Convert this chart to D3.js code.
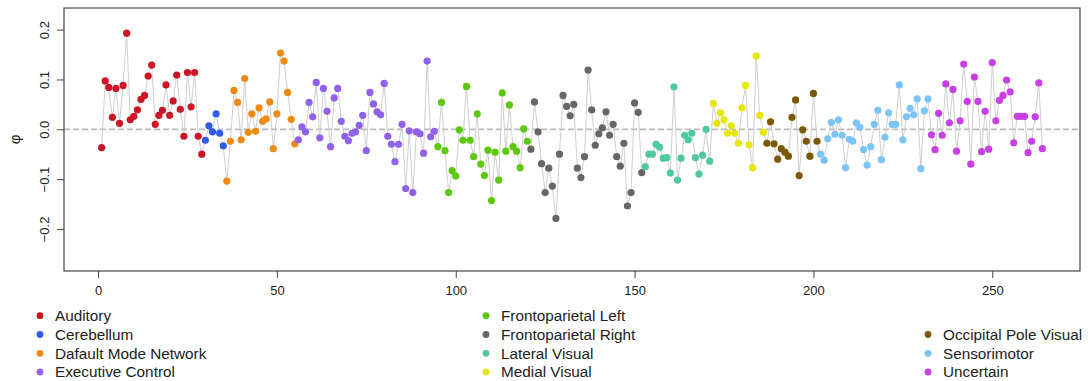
<!DOCTYPE html>
<html>
<head>
    <title>Phi by component</title>
    <style>
        body {
            margin: 0;
            background: #fff;
        }

        /* axis and legend text */
        .axis text,
        .legend text,
        .y-label {
            font-family: "Liberation Sans", Arial, sans-serif;
            fill: #222;
        }

        .axis path {
            display: none;
        }

        .axis line {
            stroke: #444;
        }
    </style>
</head>
<body>
    <div id="chart"></div>

    <script src="https://d3js.org/d3.v7.min.js"></script>
    <script>
        // Network groups, in order along the x axis
        const groups = ["Auditory", "Cerebellum", "Dafault Mode Network", "Executive Control",
            "Frontoparietal Left", "Frontoparietal Right", "Lateral Visual", "Medial Visual",
            "Occipital Pole Visual", "Sensorimotor", "Uncertain"];
        const groupColors = ["#CC1526", "#2F5BEA", "#EE8A12", "#9061EA", "#5CC80C", "#666666",
            "#4DC8A0", "#E6E600", "#7A5A00", "#7CC4F8", "#C93FE6"];
        const groupSizes = [29, 6, 20, 39, 26, 32, 19, 15, 15, 31, 32];

        // phi value for each of the 264 components
        const phi = [
            -0.037, 0.097, 0.084, 0.024, 0.082, 0.012, 0.088, 0.193, 0.019, 0.026,
            0.039, 0.060, 0.068, 0.107, 0.129, 0.010, 0.028, 0.038, 0.089, 0.028,
            0.057, 0.109, 0.040, -0.014, 0.114, 0.045, 0.114, -0.014, -0.050, -0.022,
            0.007, -0.005, 0.031, -0.008, -0.033, -0.104, -0.024, 0.078, 0.054, -0.021,
            0.102, -0.006, 0.031, -0.004, 0.043, 0.016, 0.021, 0.055, -0.039, 0.031,
            0.153, 0.137, 0.074, 0.020, -0.029, -0.021, 0.005, -0.005, 0.054, 0.025,
            0.094, -0.017, 0.082, 0.036, -0.035, 0.063, 0.082, 0.016, -0.014, -0.023,
            -0.008, -0.005, 0.008, 0.028, -0.043, 0.074, 0.051, 0.035, 0.029, 0.092,
            -0.014, -0.030, -0.065, -0.030, 0.010, -0.119, -0.003, -0.127, -0.005, -0.009,
            -0.048, 0.137, -0.015, -0.004, -0.035, 0.054, -0.043, -0.127, -0.083, -0.094,
            -0.001, -0.022, 0.086, -0.022, -0.055, 0.031, -0.070, -0.093, -0.042, -0.143,
            -0.046, -0.102, 0.073, -0.044, 0.049, -0.035, -0.044, -0.077, 0.001, -0.024,
            -0.040, 0.055, -0.005, -0.069, -0.127, -0.078, -0.114, -0.179, -0.050, 0.068,
            0.046, 0.027, 0.050, -0.078, -0.097, -0.055, 0.119, 0.039, -0.032, -0.009,
            0.003, 0.035, -0.012, 0.010, -0.055, -0.074, -0.028, -0.154, -0.127, 0.053,
            0.034, -0.087, -0.075, -0.050, -0.050, -0.030, -0.036, -0.058, -0.057, -0.088,
            0.085, -0.102, -0.058, -0.012, -0.021, -0.008, -0.057, -0.090, -0.052, 0.000,
            -0.064, 0.052, 0.012, 0.033, 0.019, -0.008, 0.007, -0.008, -0.028, 0.043,
            0.088, -0.031, -0.077, 0.147, 0.028, -0.006, -0.028, 0.015, -0.029, -0.060,
            -0.039, -0.046, -0.054, 0.024, 0.059, -0.093, -0.001, -0.024, -0.054, 0.072,
            -0.024, -0.050, -0.062, -0.019, 0.014, -0.010, 0.019, -0.012, -0.077, -0.020,
            -0.024, 0.013, 0.004, -0.041, -0.072, -0.035, 0.010, 0.038, -0.061, -0.016,
            0.033, 0.010, 0.010, 0.089, -0.021, 0.025, 0.042, 0.029, 0.061, -0.079,
            0.037, 0.061, -0.011, -0.041, 0.032, -0.012, 0.091, 0.013, 0.080, -0.044,
            0.017, 0.131, 0.056, -0.070, 0.105, 0.056, -0.045, 0.036, -0.040, 0.134,
            0.017, 0.058, 0.068, 0.099, 0.075, -0.027, 0.026, 0.026, 0.026, -0.047,
            -0.024, 0.025, 0.093, -0.039
        ];

        const xTicks = [0, 50, 100, 150, 200, 250];
        const yTicks = [-0.2, -0.1, 0.0, 0.1, 0.2];

        // build the point table: index, value, group
        const points = [];
        let k = 0;
        groupSizes.forEach(function (n, g) {
            for (let i = 0; i < n; i++) {
                points.push({ idx: k + 1, value: phi[k], group: g });
                k++;
            }
        });

        const width = 1088, height = 381;
        const plotLeft = 64, plotRight = 1080, plotTop = 8, plotBottom = 271;

        const svg = d3.select("#chart").append("svg")
            .attr("width", width)
            .attr("height", height);

        const xScale = d3.scaleLinear()
            .domain([-9.52, 274.52])
            .range([plotLeft, plotRight]);

        const yScale = d3.scaleLinear()
            .domain([-0.2845, 0.2435])
            .range([plotBottom, plotTop]);

        // zero reference line
        svg.append("line")
            .attr("x1", plotLeft)
            .attr("x2", plotRight)
            .attr("y1", yScale(0))
            .attr("y2", yScale(0))
            .attr("stroke", "#bbbbbb")
            .attr("stroke-width", 1.7)
            .attr("stroke-dasharray", "6,3");

        // connecting line
        const line = d3.line()
            .x(d => xScale(d.idx))
            .y(d => yScale(d.value));

        svg.append("path")
            .datum(points)
            .attr("d", line)
            .attr("fill", "none")
            .attr("stroke", "#cfcfcf")
            .attr("stroke-width", 1);

        svg.selectAll("circle.pt")
            .data(points)
            .enter()
            .append("circle")
            .attr("class", "pt")
            .attr("cx", d => xScale(d.idx))
            .attr("cy", d => yScale(d.value))
            .attr("r", 3.6)
            .attr("fill", d => groupColors[d.group]);

        // plot box
        svg.append("rect")
            .attr("x", plotLeft)
            .attr("y", plotTop)
            .attr("width", plotRight - plotLeft)
            .attr("height", plotBottom - plotTop)
            .attr("fill", "none")
            .attr("stroke", "#444")
            .attr("stroke-width", 1.2);

        // x axis
        const xAxis = svg.append("g")
            .attr("class", "axis")
            .attr("transform", `translate(0, ${plotBottom})`)
            .call(d3.axisBottom(xScale).tickValues(xTicks).tickSize(7));
        xAxis.selectAll("text")
            .attr("y", 24)
            .attr("dy", 0)
            .style("font-size", "13px");

        // y axis, labels rotated like base R
        const yAxis = svg.append("g")
            .attr("class", "axis")
            .attr("transform", `translate(${plotLeft}, 0)`)
            .call(d3.axisLeft(yScale).tickValues(yTicks).tickSize(7).tickFormat(d3.format(".1f")));
        yAxis.selectAll("text")
            .attr("transform", "rotate(-90)")
            .attr("x", 0)
            .attr("y", -15)
            .attr("dy", 0)
            .style("text-anchor", "middle")
            .style("font-size", "13px");

        svg.append("text")
            .attr("class", "y-label")
            .attr("transform", `translate(20, ${(plotTop + plotBottom) / 2}) rotate(-90)`)
            .style("text-anchor", "middle")
            .style("font-size", "15px")
            .text("φ");

        // legend: 3 columns of 4 rows, first slot of the third column left empty
        const legendCols = [40, 486, 928];
        const legendRows = [315.7, 334.5, 353.3, 372];
        const legend = svg.append("g").attr("class", "legend");
        groups.forEach(function (name, g) {
            const slot = g < 8 ? g : g + 1;
            const cx = legendCols[Math.floor(slot / 4)];
            const cy = legendRows[slot % 4];
            legend.append("circle")
                .attr("cx", cx)
                .attr("cy", cy)
                .attr("r", 3.4)
                .attr("fill", groupColors[g]);
            legend.append("text")
                .attr("x", cx + 15)
                .attr("y", cy + 5.3)
                .style("font-size", "15.3px")
                .text(name);
        });
    </script>
</body>
</html>
